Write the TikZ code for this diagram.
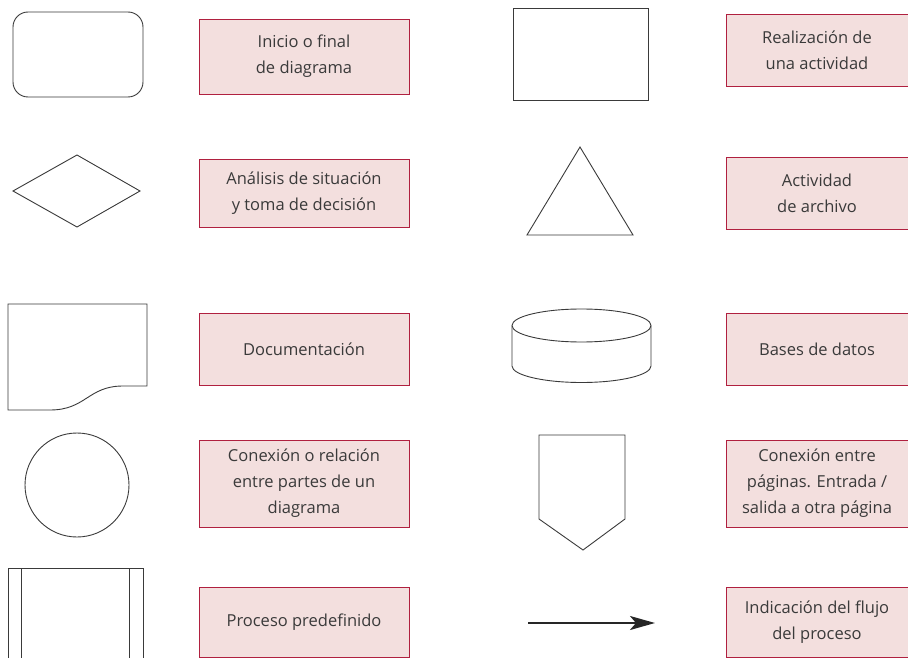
\documentclass[tikz,border=0pt]{standalone}
\usepackage{fontspec}
\setmainfont{Open Sans}
\usetikzlibrary{arrows.meta}
\definecolor{rosa}{HTML}{F3DFDE}
\definecolor{granate}{HTML}{B0203F}
\definecolor{tinta}{HTML}{3A3A3A}
\begin{document}
\begin{tikzpicture}[x=1pt,y=-1pt,
		figura/.style={draw=tinta,line width=0.9pt},
		rotulo/.style={draw=granate,fill=rosa,line width=0.9pt,text=tinta,
			align=center,inner sep=0pt,font=\fontsize{16.5}{26}\selectfont},
		izq/.style={rotulo,minimum width=210pt},
		der/.style={rotulo,minimum width=182pt}]
	\clip (0,0) rectangle (908,658);
	\useasboundingbox (0,0) rectangle (908,658);
	% columna izquierda
	\node[figura,rounded corners=15pt,minimum width=130pt,minimum height=85pt] (inicio) at (78,54.5) {};
	\node[izq,minimum height=75pt] (t-inicio) at (304,56.5) {Inicio o final\\de diagrama};
	\draw[figura] (13,191) -- (77,155) -- (140,191) -- (77,227) -- cycle;
	\node[izq,minimum height=68pt] (t-decision) at (304,193) {Análisis de situación\\y toma de decisión};
	\draw[figura] (8,304) -- (147,304) -- (147,386) -- (123,386)
		.. controls (88,386) and (86,410) .. (50,410) -- (8,410) -- cycle;
	\node[izq,minimum height=72pt] (t-documento) at (304,349) {Documentación};
	\node[figura,circle,minimum size=104pt] (conexion) at (77,485) {};
	\node[izq,minimum height=87pt] (t-conexion) at (304,483.5) {Conexión o relación\\entre partes de un\\diagrama};
	\draw[figura] (8,568) rectangle (143,700);
	\draw[figura] (21,568) -- (21,700) (129,568) -- (129,700);
	\node[izq,minimum height=70pt] (t-proceso) at (304,622) {Proceso predefinido};
	% columna derecha
	\node[figura,minimum width=135pt,minimum height=92pt] (actividad) at (580.5,54) {};
	\node[der,minimum height=72pt] (t-actividad) at (817,50) {Realización de\\una actividad};
	\draw[figura] (580,147) -- (633,235) -- (527,235) -- cycle;
	\node[der,minimum height=72pt] (t-archivo) at (817,193) {Actividad\\de archivo};
	\draw[figura] (512,325.5) -- (512,366) arc[start angle=180,end angle=360,x radius=69.5,y radius=-16.5] -- (651,325.5);
	\draw[figura] (581.5,325.5) ellipse[x radius=69.5,y radius=16.5];
	\node[der,minimum height=72pt] (t-datos) at (817,349) {Bases de datos};
	\draw[figura] (539,435) -- (625,435) -- (625,519) -- (583,550) -- (539,519) -- cycle;
	\node[der,minimum height=87pt] (t-paginas) at (817,483.5) {Conexión entre\\páginas. Entrada /\\salida a otra página};
	\coordinate (flujo-a) at (528,623);
	\coordinate (flujo-b) at (655,623);
	\draw[black!85,line width=2.3pt,-{Stealth[length=25pt,width=14pt,inset=6pt]}] (flujo-a) -- (flujo-b);
	\node[der,minimum height=70pt] (t-flujo) at (817,622) {Indicación del flujo\\del proceso};
\end{tikzpicture}
\end{document}
